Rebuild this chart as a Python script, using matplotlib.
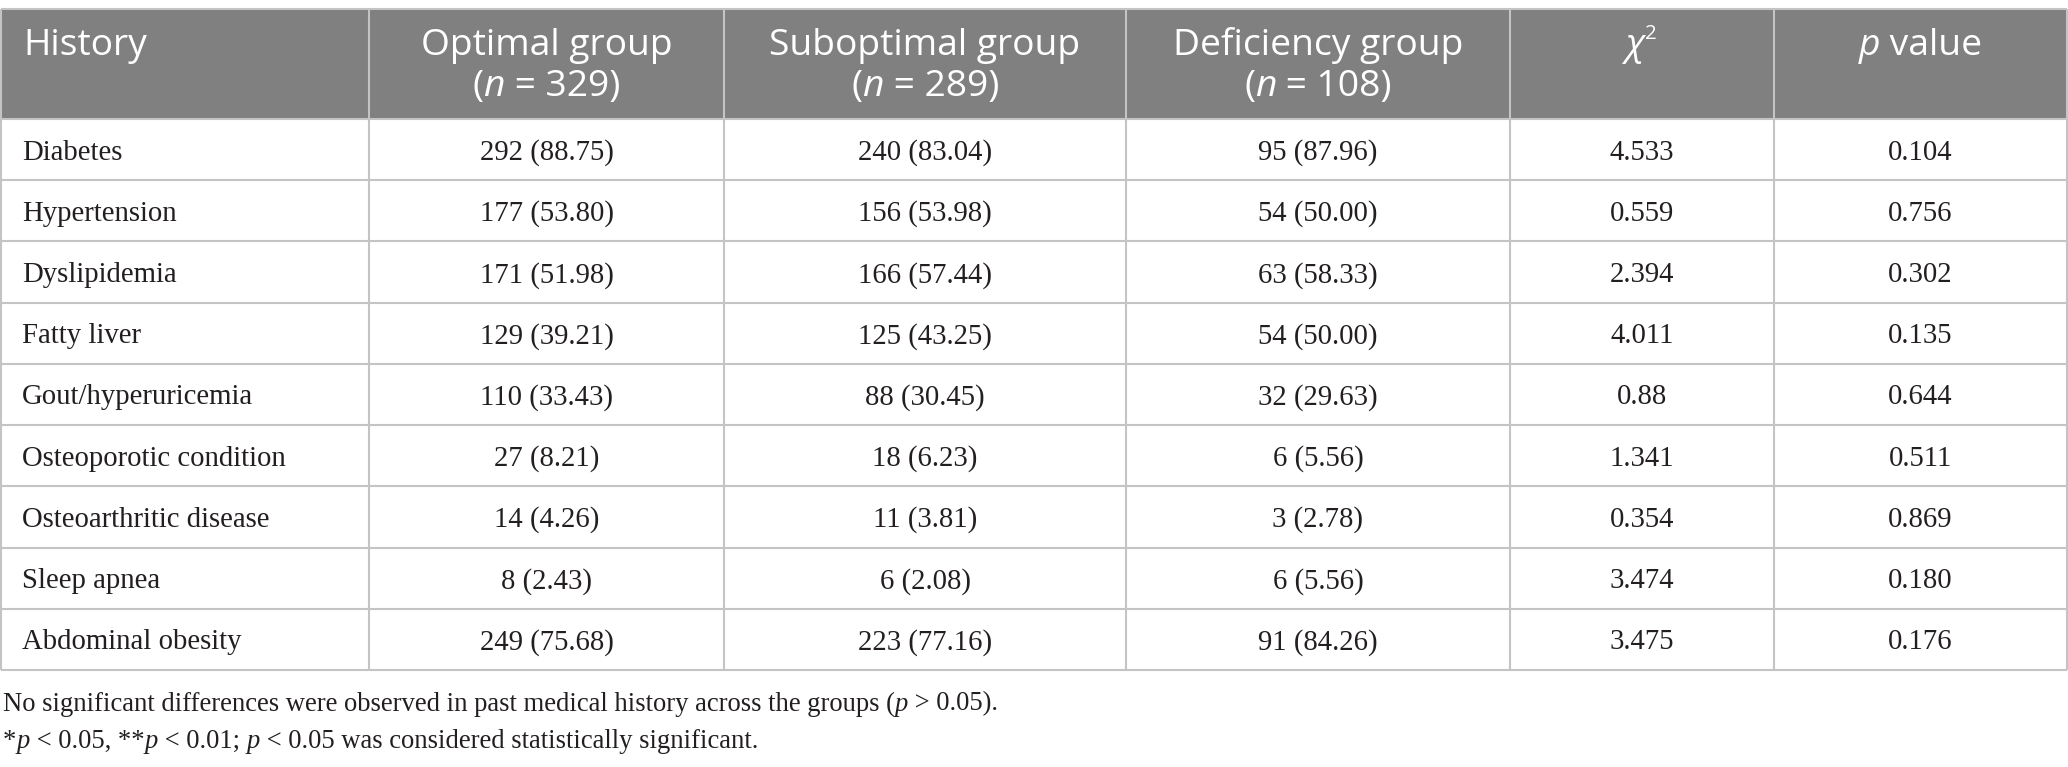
import matplotlib
matplotlib.use("Agg")
import matplotlib.pyplot as plt
from matplotlib.patches import Rectangle
from matplotlib.offsetbox import TextArea, HPacker, AnnotationBbox

# table content
history = ["Diabetes", "Hypertension", "Dyslipidemia", "Fatty liver",
           "Gout/hyperuricemia", "Osteoporotic condition",
           "Osteoarthritic disease", "Sleep apnea", "Abdominal obesity"]
optimal = ["292 (88.75)", "177 (53.80)", "171 (51.98)", "129 (39.21)",
           "110 (33.43)", "27 (8.21)", "14 (4.26)", "8 (2.43)", "249 (75.68)"]
suboptimal = ["240 (83.04)", "156 (53.98)", "166 (57.44)", "125 (43.25)",
              "88 (30.45)", "18 (6.23)", "11 (3.81)", "6 (2.08)", "223 (77.16)"]
deficiency = ["95 (87.96)", "54 (50.00)", "63 (58.33)", "54 (50.00)",
              "32 (29.63)", "6 (5.56)", "3 (2.78)", "6 (5.56)", "91 (84.26)"]
chi2 = ["4.533", "0.559", "2.394", "4.011", "0.88", "1.341", "0.354",
        "3.474", "3.475"]
pvals = ["0.104", "0.756", "0.302", "0.135", "0.644", "0.511", "0.869",
         "0.180", "0.176"]
group_names = ["Optimal group", "Suboptimal group", "Deficiency group"]
group_n = ["329", "289", "108"]
notes = [
    [("No significant differences were observed in past medical history "
      "across the groups (", "normal"), ("p", "italic"), (" > 0.05).", "normal")],
    [("*", "normal"), ("p", "italic"), (" < 0.05, **", "normal"), ("p", "italic"),
     (" < 0.01; ", "normal"), ("p", "italic"),
     (" < 0.05 was considered statistically significant.", "normal")],
]

W, H = 2068, 767
col_edges = [1, 369, 724, 1126, 1510, 1774, 2067]
head_top, head_bot = 9, 119
row_h = (670 - head_bot) / len(history)

HEAD_FONT = "Open Sans"
BODY_FONT = "Liberation Serif"
HEAD_SIZE = 26.8
BODY_SIZE = 20.7
NOTE_SIZE = 19.2
TXT = "#231f20"
GRID = "#c4c4c4"
HEAD_BG = "#7f807f"

fig = plt.figure(figsize=(W / 100, H / 100), dpi=100)
ax = fig.add_axes([0, 0, 1, 1])
ax.set_xlim(0, W)
ax.set_ylim(H, 0)
ax.axis("off")


def rich(x, y, pieces, size, family, color, align=(0.5, 0.5)):
    boxes = [TextArea(s, textprops=dict(fontsize=size, family=family,
                                        style=st, color=color))
             for s, st in pieces]
    pack = HPacker(children=boxes, align="baseline", pad=0, sep=0)
    ab = AnnotationBbox(pack, (x, y), xycoords="data", frameon=False,
                        box_alignment=align, pad=0)
    ax.add_artist(ab)


# header band
ax.add_patch(Rectangle((col_edges[0], head_top), col_edges[-1] - col_edges[0],
                       head_bot - head_top, facecolor=HEAD_BG, edgecolor="none"))

line1_y, line2_y = 46, 87
ax.text(23, line1_y, "History", fontsize=HEAD_SIZE, family=HEAD_FONT,
        color="white", ha="left", va="center")
for i, (name, n) in enumerate(zip(group_names, group_n)):
    cx = (col_edges[i + 1] + col_edges[i + 2]) / 2
    ax.text(cx, line1_y, name, fontsize=HEAD_SIZE, family=HEAD_FONT,
            color="white", ha="center", va="center")
    rich(cx, line2_y, [("(", "normal"), ("n", "italic"), (" = " + n + ")", "normal")],
         HEAD_SIZE, HEAD_FONT, "white")
cx = (col_edges[4] + col_edges[5]) / 2
ax.text(cx + 2, line1_y, "χ", fontsize=HEAD_SIZE, family=HEAD_FONT, style="italic",
        color="white", ha="right", va="center")
ax.text(cx + 3, line1_y - 12, "2", fontsize=HEAD_SIZE * 0.55, family=HEAD_FONT,
        color="white", ha="left", va="center")
cx = (col_edges[5] + col_edges[6]) / 2
rich(cx, line1_y, [("p", "italic"), (" value", "normal")], HEAD_SIZE, HEAD_FONT, "white")

# body
columns = [optimal, suboptimal, deficiency, chi2, pvals]
for r, name in enumerate(history):
    cy = head_bot + (r + 0.5) * row_h + 3
    ax.text(22, cy, name, fontsize=BODY_SIZE, family=BODY_FONT, color=TXT,
            ha="left", va="center")
    for c, col in enumerate(columns):
        cx = (col_edges[c + 1] + col_edges[c + 2]) / 2
        ax.text(cx, cy, col[r], fontsize=BODY_SIZE, family=BODY_FONT, color=TXT,
                ha="center", va="center")

# grid lines
lw = 1.5
bottom = head_bot + len(history) * row_h
ax.hlines([head_top], col_edges[0], col_edges[-1], color=GRID, lw=lw)
ax.hlines([head_bot + k * row_h for k in range(len(history) + 1)],
          col_edges[0], col_edges[-1], color=GRID, lw=lw)
ax.vlines(col_edges, head_top, bottom, color=GRID, lw=lw)

# footnotes
for k, pieces in enumerate(notes):
    rich(3, 704 + k * 37, pieces, NOTE_SIZE, BODY_FONT, TXT, align=(0, 0.5))

fig.savefig("out.png", dpi=100)
